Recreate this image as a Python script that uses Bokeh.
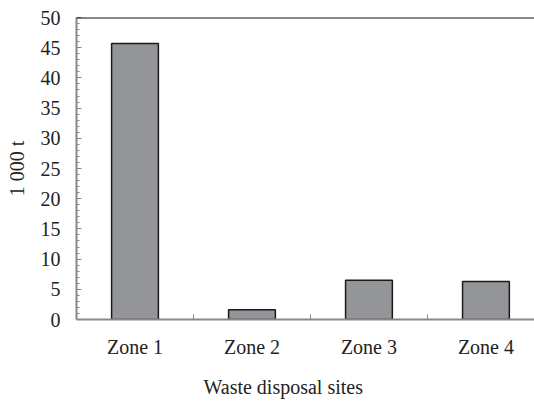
from bokeh.plotting import figure
from bokeh.models import FixedTicker, Span, Range1d, ColumnDataSource, Title
from bokeh.embed import file_html
from bokeh.resources import INLINE

categories = ["Zone 1", "Zone 2", "Zone 3", "Zone 4"]
values = [45.7, 1.6, 6.5, 6.3]
y_ticks = [0, 5, 10, 15, 20, 25, 30, 35, 40, 45, 50]

xs = [i + 0.5 for i in range(len(categories))]
src = ColumnDataSource(dict(x=xs, top=values))

p = figure(width=534, height=411, output_backend="svg", toolbar_location=None,
           x_range=Range1d(0, 3.915), y_range=Range1d(0, 50),
           min_border_left=76, min_border_top=17, min_border_bottom=85, min_border_right=0)
p.outline_line_color = None
p.background_fill_color = "white"
p.border_fill_color = "white"
p.xgrid.visible = False
p.ygrid.visible = False

p.vbar(x="x", top="top", width=0.4, source=src, fill_color="#939598",
       line_color="#1a1a1a", line_width=1.5)

p.add_layout(Span(location=50, dimension="width", line_color="#111111", line_width=2))

font = "Liberation Serif"
ax = p.xaxis[0]
ax.ticker = FixedTicker(ticks=xs, minor_ticks=[1, 2, 3])
ax.major_label_overrides = {x: c for x, c in zip(xs, categories)}
ax.major_tick_line_color = None
ax.minor_tick_in = 5
ax.minor_tick_out = 0
ax.minor_tick_line_color = "#888888"
ax.axis_line_color = "#888888"
ax.axis_line_width = 2
ax.major_label_text_font = font
ax.major_label_text_font_size = "20px"
ax.major_label_text_color = "#222222"
ax.major_label_standoff = 10

p.add_layout(Title(text="Waste disposal sites", align="left", offset=127, standoff=27,
                   text_font=font, text_font_size="20px", text_font_style="normal",
                   text_color="#222222", text_line_height=0.7), "below")

ay = p.yaxis[0]
ay.ticker = FixedTicker(ticks=y_ticks, minor_ticks=list(range(0, 51)))
ay.major_tick_in = 5
ay.major_tick_out = 0
ay.minor_tick_in = 3
ay.minor_tick_out = 0
ay.major_tick_line_color = "#888888"
ay.minor_tick_line_color = "#888888"
ay.axis_line_color = "#888888"
ay.axis_line_width = 2
ay.major_label_text_font = font
ay.major_label_text_font_size = "20px"
ay.major_label_text_color = "#222222"
ay.major_label_standoff = 16
ay.axis_label = "1 000 t"
ay.axis_label_text_font = font
ay.axis_label_text_font_size = "20px"
ay.axis_label_text_font_style = "normal"
ay.axis_label_text_color = "#222222"
ay.axis_label_standoff = 10

open("out.html", "w").write(file_html(p, INLINE))
